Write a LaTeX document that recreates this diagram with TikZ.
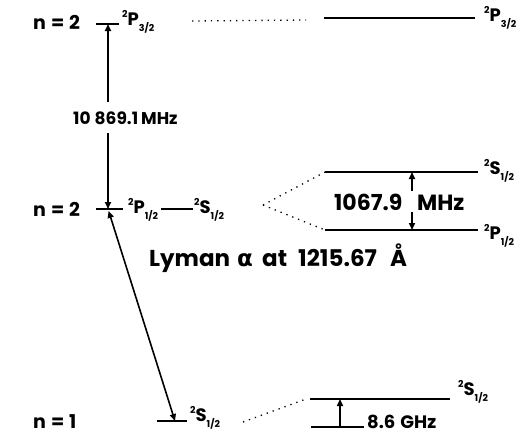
\documentclass[tikz,border=0pt]{standalone}
\usepackage{fontspec}
\setmainfont{Poppins}
\newfontfamily\greekfont{DejaVu Sans}
\usetikzlibrary{arrows.meta}
\newcommand\spec[3]{\raisebox{0.45em}{\fontsize{9.5}{10}\selectfont #1}#2\raisebox{-0.32em}{\fontsize{9.5}{10}\selectfont #3}}
\tikzset{
  level/.style={line width=2.6pt},
  arr/.style={line width=1.6pt,-{Triangle[length=7pt,width=6pt]}},
  darr/.style={line width=1.6pt,{Triangle[length=7pt,width=6pt]}-{Triangle[length=7pt,width=6pt]}},
  dots/.style={line width=1.3pt,dash pattern=on 1.3pt off 5pt},
  txt/.style={inner sep=0pt,font=\bfseries\fontsize{19}{22}\selectfont},
  term/.style={inner sep=0pt,font=\bfseries\fontsize{18}{20}\selectfont},
  lab/.style={inner sep=0pt,anchor=west},
}
\begin{document}
\begin{tikzpicture}[x=1pt,y=-1pt]
\useasboundingbox (0,0) rectangle (526,440);
% ---- top n=2 P3/2
\node[txt,anchor=west] (n2a) at (33,22) {n\hspace{5pt}=\hspace{5pt}2};
\coordinate (t1l) at (96,24); \coordinate (t1r) at (119,24); \coordinate (t1c) at (108,24);
\draw[level] (t1l) -- (t1r);
\node[term,anchor=west] (p32a) at (122,22) {\spec{2}{P}{3/2}};
\coordinate (d1a) at (192,21); \coordinate (d1b) at (306,20);
\draw[dots] (d1a) -- (d1b);
\coordinate (t2l) at (324,18); \coordinate (t2r) at (475,18);
\draw[level] (t2l) -- (t2r);
\node[term,anchor=west] (p32b) at (484,18) {\spec{2}{P}{3/2}};
% ---- fine structure
\node[lab,font=\bfseries\fontsize{17}{20}\selectfont] (fs) at (73,118) {10\hspace{4pt}869.1\hspace{3pt}MHz};
\coordinate (fst) at (108,102);
\draw[arr] (fst) -- (t1c);
% ---- middle n=2 P1/2 S1/2
\node[txt,anchor=west] (n2b) at (33,209) {n\hspace{5pt}=\hspace{5pt}2};
\coordinate (m1l) at (96,209); \coordinate (m1r) at (123,209); \coordinate (m1c) at (108,209);
\coordinate (fsb) at (108,133);
\draw[arr] (fsb) -- (m1c);
\draw[level] (m1l) -- (m1r);
\node[term,anchor=west] (p12a) at (128,210) {\spec{2}{P}{1/2}};
\node[term,anchor=west] (s12a) at (194,210) {\spec{2}{S}{1/2}};
\draw[line width=1.5pt] ([xshift=3pt,yshift=1pt]p12a.east) -- ([xshift=-1pt,yshift=1pt]s12a.west);
\coordinate (vx) at (263,205);
\coordinate (s2l) at (325,172); \coordinate (s2r) at (478,172);
\coordinate (p2l) at (325,230); \coordinate (p2r) at (478,230);
\draw[dots] (vx) -- (s2l);
\draw[dots] (vx) -- (p2l);
\draw[level] (s2l) -- (s2r);
\draw[level] (p2l) -- (p2r);
\node[term,anchor=west] (s12b) at (484,171) {\spec{2}{S}{1/2}};
\node[term,anchor=west] (p12b) at (484,236) {\spec{2}{P}{1/2}};
\node[lab,font=\bfseries\fontsize{22}{24}\selectfont] (lamb) at (334,202) {\makebox[83pt][l]{1067.9}MHz};
\coordinate (la) at (412,172); \coordinate (lb) at (412,230);
\coordinate (la0) at (412,191); \coordinate (lb0) at (412,212);
\draw[arr] (la0) -- (la);
\draw[arr] (lb0) -- (lb);
\node[lab,font=\bfseries\fontsize{23}{26}\selectfont] (lyman) at (149,258) {\makebox[88pt][l]{Lyman}\makebox[25pt][l]{\greekfont\bfseries α}\makebox[36pt][l]{at}\makebox[92pt][l]{1215.67}Å};
% ---- bottom n=1
\node[txt,anchor=west] (n1) at (33,422) {n\hspace{5pt}=\hspace{5pt}1};
\coordinate (b1l) at (157,421); \coordinate (b1r) at (187,421); \coordinate (b1c) at (175,421);
\draw[level] (b1l) -- (b1r);
\draw[darr,shorten <=2pt] (m1c) -- (b1c);
\node[term,anchor=west] (s12c) at (190,418) {\spec{2}{S}{1/2}};
\coordinate (d3a) at (243,422); \coordinate (d3b) at (306,399);
\draw[dots] (d3a) -- (d3b);
\coordinate (h1l) at (310,399); \coordinate (h1r) at (450,399);
\coordinate (h0l) at (311,427); \coordinate (h0r) at (364,427);
\coordinate (h1c) at (340,399); \coordinate (h0c) at (340,427);
\draw[level] (h1l) -- (h1r);
\draw[level] (h0l) -- (h0r);
\draw[arr] (h0c) -- (h1c);
\node[lab,font=\bfseries\fontsize{18}{20}\selectfont] (hfs) at (367,422) {8.6\hspace{5pt}GHz};
\node[term,anchor=west] (s12d) at (458,392) {\spec{2}{S}{1/2}};
\end{tikzpicture}
\end{document}
